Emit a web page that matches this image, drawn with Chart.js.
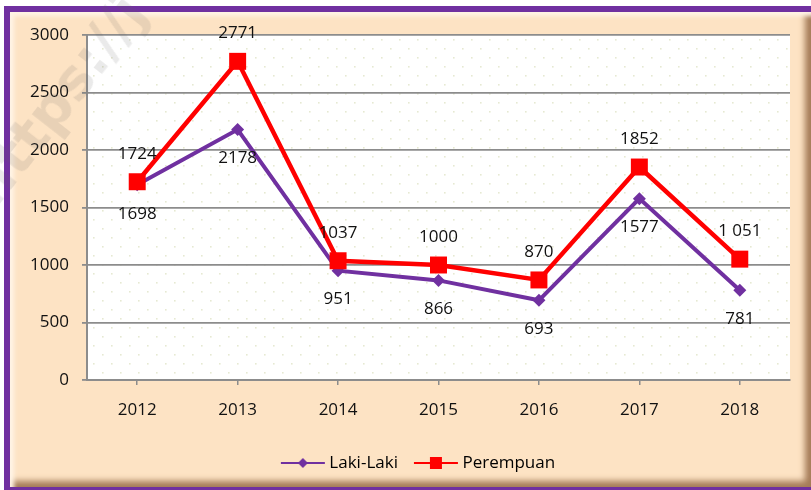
<!DOCTYPE html>
<html>
<head>
<meta charset="utf-8">
<script src="https://cdn.jsdelivr.net/npm/chart.js@4"></script>
<style>
html, body { margin: 0; padding: 0; background: #fff; }
#wrap { position: relative; width: 811px; height: 490px; overflow: hidden; }
#frame {
    position: absolute; left: 4px; top: 6px; width: 807px; height: 484px;
    box-sizing: border-box;
    border-left: 6px solid #7030A0; border-top: 6px solid #7030A0; border-bottom: 3px solid #7030A0;
    background: #FDE3C4;
    box-shadow: inset 7px 7px 4px -3px #fff4e6, inset -10px -10px 6px -4px #a57c58;
}
#myChart { position: absolute; left: 0; top: 0; }
#wm {
    position: absolute; left: -46px; top: 178px;
    transform: rotate(-52deg); transform-origin: 0 0;
    font: bold 56px "DejaVu Sans", sans-serif; color: rgba(90, 90, 90, 0.13);
    white-space: nowrap; pointer-events: none;
}
</style>
</head>
<body>
<div id="wrap">
    <div id="frame"></div>
    <canvas id="myChart" width="811" height="490"></canvas>
    <div id="wm">https://j</div>
</div>
<script>
const TAHUN = ["2012", "2013", "2014", "2015", "2016", "2017", "2018"];
const LAKI = [1698, 2178, 951, 866, 693, 1577, 781];
const PEREMPUAN = [1724, 2771, 1037, 1000, 870, 1852, 1051];
const LABEL_LAKI = ["1698", "2178", "951", "866", "693", "1577", "781"];
const LABEL_PEREMPUAN = ["1724", "2771", "1037", "1000", "870", "1852", "1 051"];
const UNGU = "#7030A0";
const MERAH = "#FF0000";
const FONT = '"Open Sans", sans-serif';

// fondo blanco punteado del area de datos
const fondoPlot = {
    id: "fondoPlot",
    beforeDraw(chart) {
        const {ctx, chartArea: a} = chart;
        ctx.save();
        ctx.fillStyle = "#fff";
        ctx.fillRect(a.left, a.top, a.right - a.left, a.bottom - a.top);
        ctx.fillStyle = "#e6e9d2";
        let fila = 0;
        for (let y = a.top + 4; y < a.bottom; y += 9, fila++) {
            for (let x = a.left + 6 + (fila % 2) * 9; x < a.right; x += 18) {
                ctx.fillRect(x, y, 1.6, 1.6);
            }
        }
        ctx.restore();
    }
};

// etiquetas de valores encima / debajo de los puntos
const etiquetas = {
    id: "etiquetas",
    afterDatasetsDraw(chart) {
        const ctx = chart.ctx;
        ctx.save();
        ctx.font = "17px " + FONT;
        ctx.fillStyle = "#111";
        ctx.textAlign = "center";
        ctx.textBaseline = "middle";
        chart.data.datasets.forEach((ds, i) => {
            chart.getDatasetMeta(i).data.forEach((pt, j) => {
                ctx.fillText(ds.textos[j], pt.x, pt.y + ds.desplazamiento);
            });
        });
        ctx.restore();
    }
};

// la leyenda va un poco a la derecha del centro
const moverLeyenda = {
    id: "moverLeyenda",
    afterLayout(chart) {
        chart.legend.left += 50;
    }
};

function iconoLeyenda(color, forma) {
    const c = document.createElement("canvas");
    c.width = 46; c.height = 18;
    const g = c.getContext("2d");
    g.strokeStyle = color;
    g.lineWidth = 2;
    g.beginPath(); g.moveTo(1, 9); g.lineTo(45, 9); g.stroke();
    g.fillStyle = color;
    if (forma == "rombo") {
        g.beginPath(); g.moveTo(23, 4); g.lineTo(28, 9); g.lineTo(23, 14); g.lineTo(18, 9); g.closePath(); g.fill();
    } else {
        g.fillRect(17, 3, 12, 12);
    }
    return c;
}

const iconos = [iconoLeyenda(UNGU, "rombo"), iconoLeyenda(MERAH, "cuadro")];

new Chart(document.getElementById("myChart").getContext("2d"), {
    type: "line",
    data: {
        labels: TAHUN,
        datasets: [{
            label: "Laki-Laki",
            data: LAKI,
            textos: LABEL_LAKI,
            desplazamiento: 29,
            borderColor: UNGU,
            backgroundColor: UNGU,
            borderWidth: 4,
            pointStyle: "rectRot",
            pointRadius: 6.5,
            pointBorderWidth: 0,
            tension: 0,
            order: 2
        }, {
            label: "Perempuan",
            data: PEREMPUAN,
            textos: LABEL_PEREMPUAN,
            desplazamiento: -28,
            borderColor: MERAH,
            backgroundColor: MERAH,
            borderWidth: 4.5,
            pointStyle: "rect",
            pointRadius: 12,
            pointBorderWidth: 0,
            tension: 0,
            order: 1
        }]
    },
    options: {
        responsive: false,
        animation: false,
        layout: {padding: {left: 0, right: 21, top: 35, bottom: 8.5}},
        plugins: {
            tooltip: {enabled: false},
            legend: {
                position: "bottom",
                labels: {
                    usePointStyle: true,
                    pointStyleWidth: 36,
                    padding: 20,
                    color: "#111",
                    font: {family: FONT, size: 17},
                    generateLabels: (chart) => chart.data.datasets.map((ds, i) => ({
                        text: ds.label,
                        pointStyle: iconos[i],
                        fillStyle: ds.borderColor,
                        strokeStyle: ds.borderColor,
                        lineWidth: 0,
                        hidden: false,
                        datasetIndex: i
                    }))
                }
            }
        },
        scales: {
            x: {
                offset: true,
                grid: {display: true, drawOnChartArea: false, drawTicks: true, tickLength: 5, color: "#8c8c8c", lineWidth: 1.5},
                border: {color: "#8c8c8c", width: 2},
                ticks: {color: "#111", padding: 15, font: {family: FONT, size: 17}},
                afterFit: (scale) => { scale.height = 54.5; }
            },
            y: {
                min: 0,
                max: 3000,
                ticks: {stepSize: 500, color: "#111", padding: 13, font: {family: FONT, size: 17},
                    callback: (v) => String(v)},
                grid: {color: "#8c8c8c", lineWidth: 1.8, tickLength: 5},
                border: {color: "#8c8c8c", width: 2},
                afterFit: (scale) => { scale.width = 87; }
            }
        }
    },
    plugins: [fondoPlot, etiquetas, moverLeyenda]
});
</script>
</body>
</html>
